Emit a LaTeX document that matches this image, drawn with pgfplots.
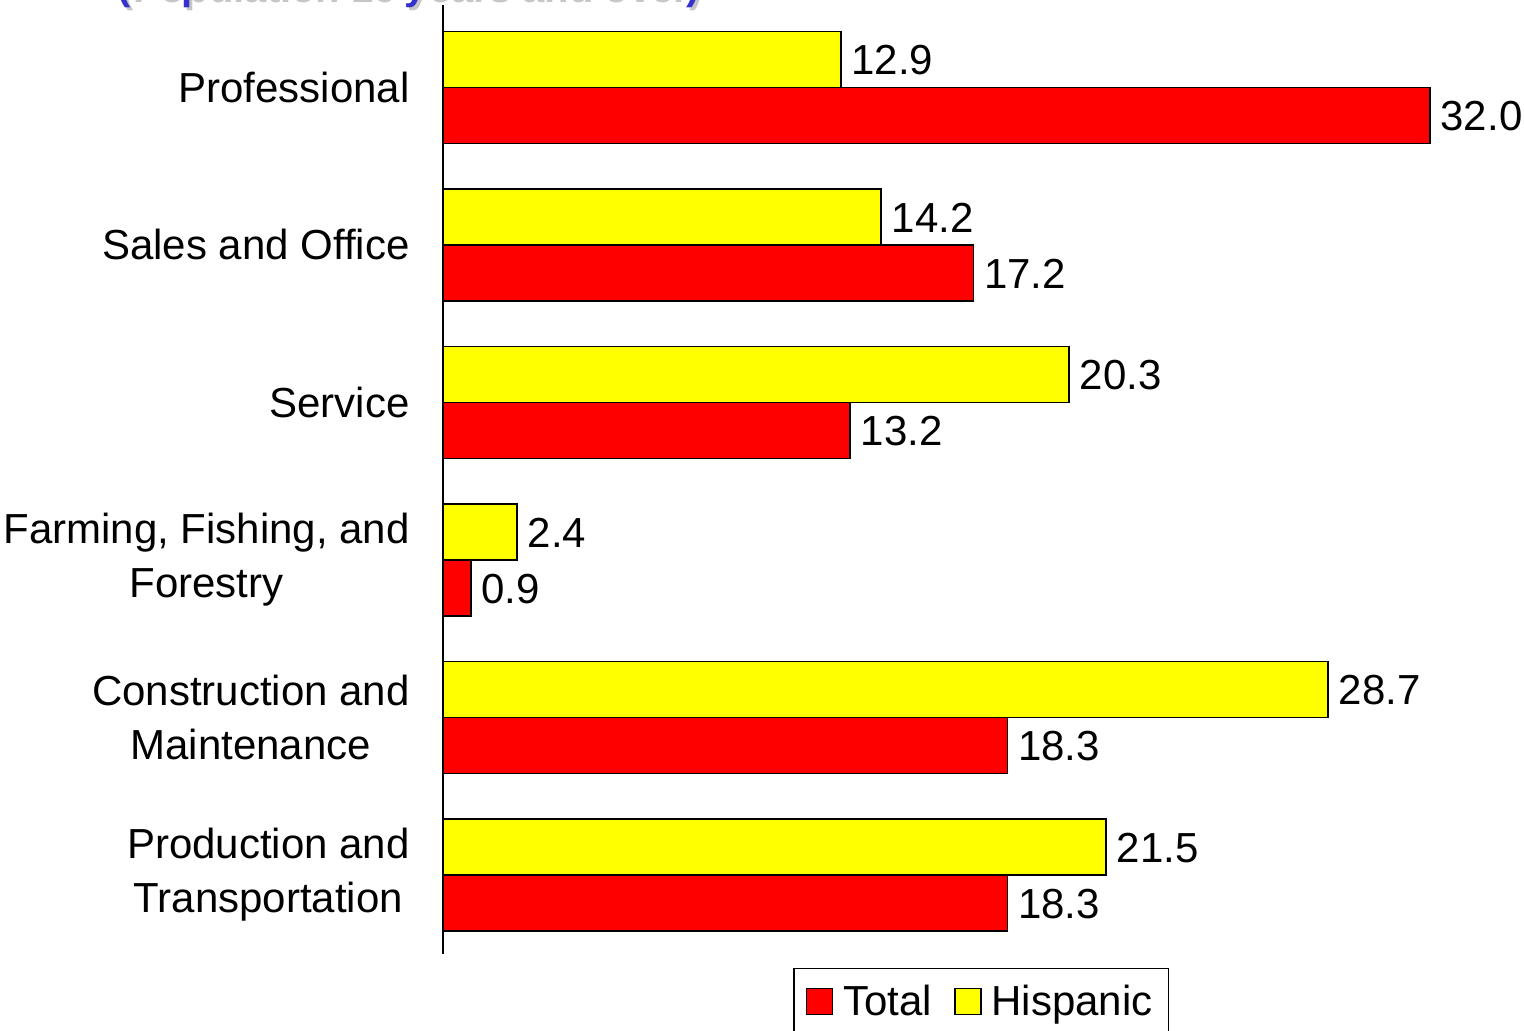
\documentclass[border=0pt]{standalone}
\usepackage{pgfplots}
\pgfplotsset{compat=1.18}
\usepackage{fontspec}
\setmainfont{Liberation Sans}
\definecolor{ttlblue}{RGB}{51,51,204}
\definecolor{baryellow}{RGB}{255,255,0}
\definecolor{barred}{RGB}{255,0,0}
\begin{document}
\begin{tikzpicture}
\begin{axis}[
  at={(0,0)}, anchor=origin,
  x=15.42pt, y=78.75pt,
  xbar, bar width=28pt,
  xmin=0, xmax=35, ymin=-0.5, ymax=5.524,
  enlargelimits=false,
  axis x line=none,
  axis y line=left,
  axis line style={-, line width=1pt, black},
  ytick={0,1,2,3,4,5},
  yticklabels={{Production and\\Transportation},{Construction and\\Maintenance},{Farming, Fishing, and\\Forestry},Service,Sales and Office,Professional},
  major tick length=0pt,
  yticklabel style={align=center, font=\fontsize{21}{27}\selectfont, inner sep=0pt, xshift=-16.5pt},
  /pgf/number format/assume math mode=true,
  nodes near coords={\pgfmathprintnumber[fixed,fixed zerofill,precision=1]{\pgfplotspointmeta}},
  nodes near coords style={font=\fontsize{21}{25}\selectfont, anchor=west, inner sep=1pt, xshift=4pt, yshift=-0.5pt, black},
  point meta=x,
  clip=false,
  legend columns=2,
  legend style={at={(axis description cs:0.3243,-0.015)}, anchor=north west, draw=black, line width=0.75pt,
    font=\fontsize{21}{25}\selectfont, inner xsep=6pt, inner ysep=6pt,
    /tikz/every odd column/.append style={column sep=3pt},
    /tikz/every even column/.append style={column sep=9pt}},
  legend image code/.code={\draw[#1, draw=black, line width=0.75pt] (0pt,-6.5pt) rectangle (13pt,6.5pt);},
]
\addplot[fill=barred, draw=black, line width=0.75pt, bar shift=-14pt] coordinates {
  (18.3,0) (18.3,1) (0.9,2) (13.2,3) (17.2,4) (32.0,5)};
\addlegendentry{Total}
\addplot[fill=baryellow, draw=black, line width=0.75pt, bar shift=14pt] coordinates {
  (21.5,0) (28.7,1) (2.4,2) (20.3,3) (14.2,4) (12.9,5)};
\addlegendentry{Hispanic}
\end{axis}
\node[anchor=base west, inner sep=0pt, text=gray!45, font=\bfseries\fontsize{20}{24}\selectfont] at (-161.5pt,436.0pt) {(Population 16 years and over)};
\node[anchor=base west, inner sep=0pt, text=ttlblue, font=\bfseries\fontsize{20}{24}\selectfont] at (-163pt,437.5pt) {(Population 16 years and over)};
\pgfresetboundingbox
\useasboundingbox (-221.5pt,-78pt) rectangle (540.5pt,437.5pt);
\end{tikzpicture}
\end{document}
